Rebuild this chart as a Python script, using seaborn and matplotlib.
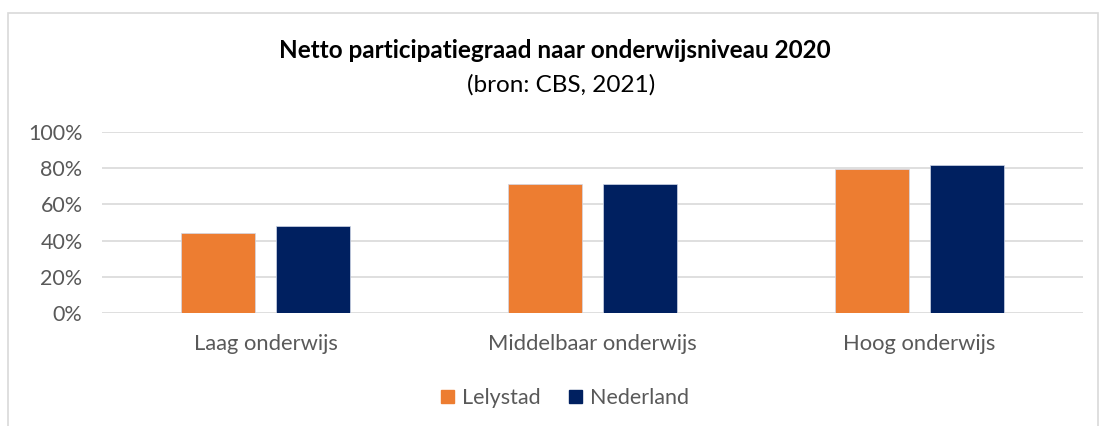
import matplotlib
matplotlib.use("Agg")
import matplotlib.pyplot as plt
import seaborn as sns
import pandas as pd
from matplotlib.patches import Rectangle
from matplotlib.ticker import PercentFormatter

categories = ["Laag onderwijs", "Middelbaar onderwijs", "Hoog onderwijs"]
series = ["Lelystad", "Nederland"]
lelystad = [0.444, 0.713, 0.797]
nederland = [0.481, 0.713, 0.819]
yticks = [0, 0.2, 0.4, 0.6, 0.8, 1.0]

df = pd.DataFrame({
    "cat": categories * 2,
    "serie": [series[0]] * 3 + [series[1]] * 3,
    "val": lelystad + nederland,
})

sns.set_theme(style="white")
plt.rcParams['font.family'] = ['Lato', 'DejaVu Sans']

fig = plt.figure(figsize=(10.99, 4.26), dpi=100)
ax = fig.add_axes([102/1099, (426-313)/426, (1083-102)/1099, (313-132)/426])

gray = "#595959"
sns.barplot(data=df, x="cat", y="val", hue="serie", order=categories,
            hue_order=series, palette=["#ED7D31", "#002060"],
            width=0.575, gap=0.213, ax=ax, legend=False,
            edgecolor="#d0d8e8", linewidth=0.5, saturation=1)

ax.set_xlim(-0.5, 2.5)
ax.set_ylim(0, 1.0)
ax.set_yticks(yticks)
ax.yaxis.set_major_formatter(PercentFormatter(1.0, decimals=0))
ax.grid(axis="y", color="#d9d9d9", linewidth=1.2)
ax.set_axisbelow(True)
for s in ax.spines.values():
    s.set_visible(False)
ax.set_xlabel("")
ax.set_ylabel("")
ax.tick_params(axis="y", length=0, pad=14, labelsize=15.5, labelcolor=gray)
ax.tick_params(axis="x", length=0, pad=15, labelsize=15.8, labelcolor=gray)

fig.text(555/1099, 1 - 50/426, "Netto participatiegraad naar onderwijsniveau 2020",
         ha="center", va="center", fontsize=17.5, fontweight="bold", color="black")
fig.text(561/1099, 1 - 85/426, "(bron: CBS, 2021)",
         ha="center", va="center", fontsize=17.5, color="black")

# legend
handles = [Rectangle((0, 0), 1, 1, color=c) for c in ["#ED7D31", "#002060"]]
fig.legend(handles, series, loc="center", bbox_to_anchor=(565/1099, 1 - 398/426),
           ncol=2, frameon=False, fontsize=15.5, labelcolor=gray,
           handlelength=0.6, handleheight=0.6, handletextpad=0.4, columnspacing=1.3)

# outer border
border = Rectangle((8/1099, -0.05), (1098-8)/1099, (1 - 13/426) + 0.05,
                   transform=fig.transFigure, fill=False, edgecolor="#d9d9d9",
                   linewidth=1.2)
fig.add_artist(border)

fig.savefig("out.png", dpi=100)
